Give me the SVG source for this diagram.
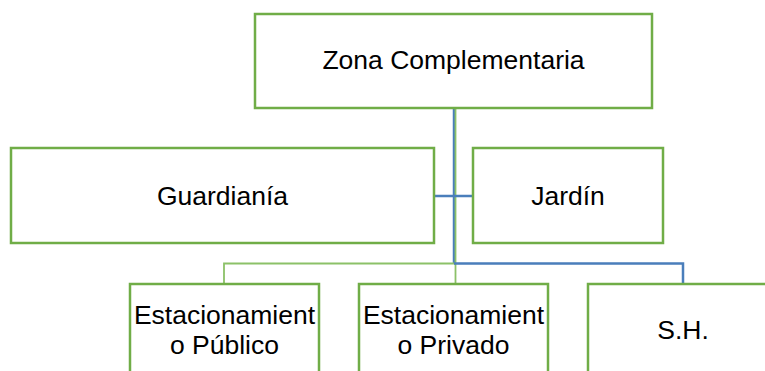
<svg xmlns="http://www.w3.org/2000/svg" width="765" height="371" viewBox="0 0 765 371">
<style>
.box{fill:#ffffff;stroke:#70AD47;stroke-width:2.5}
.t{font-family:"Liberation Sans",Arial,sans-serif;font-size:26.5px;fill:#000000;text-anchor:middle}
.blue{stroke:#4A7EBB;stroke-width:2.5;fill:none}
.green{stroke:#8CC168;stroke-width:1.8;fill:none}
</style>
<rect width="765" height="371" fill="#ffffff"/>
<g id="connectors">
<line class="blue" x1="454" y1="108" x2="454" y2="264"/>
<line class="green" x1="455.5" y1="108" x2="455.5" y2="284"/>
<line class="blue" x1="434" y1="196" x2="473" y2="196"/>
<polyline class="green" points="455.5,263.5 224,263.5 224,284"/>
<polyline class="blue" points="454,263.5 683,263.5 683,284"/>
</g>
<g id="zona">
<rect class="box" x="255" y="14" width="397" height="94"/>
<text class="t" x="453.5" y="69">Zona Complementaria</text>
</g>
<g id="guardiania">
<rect class="box" x="11" y="148" width="423" height="95"/>
<text class="t" x="222.5" y="205">Guardianía</text>
</g>
<g id="jardin">
<rect class="box" x="473" y="148" width="190" height="95"/>
<text class="t" x="568" y="205">Jardín</text>
</g>
<g id="est-publico">
<rect class="box" x="130" y="284" width="189" height="100"/>
<text class="t" x="224.5" y="324">Estacionamient</text>
<text class="t" x="224.5" y="354">o Público</text>
</g>
<g id="est-privado">
<rect class="box" x="359" y="284" width="189" height="100"/>
<text class="t" x="453.5" y="324">Estacionamient</text>
<text class="t" x="453.5" y="354">o Privado</text>
</g>
<g id="sh">
<rect class="box" x="588" y="284" width="190" height="100"/>
<text class="t" x="683" y="339">S.H.</text>
</g>
</svg>
